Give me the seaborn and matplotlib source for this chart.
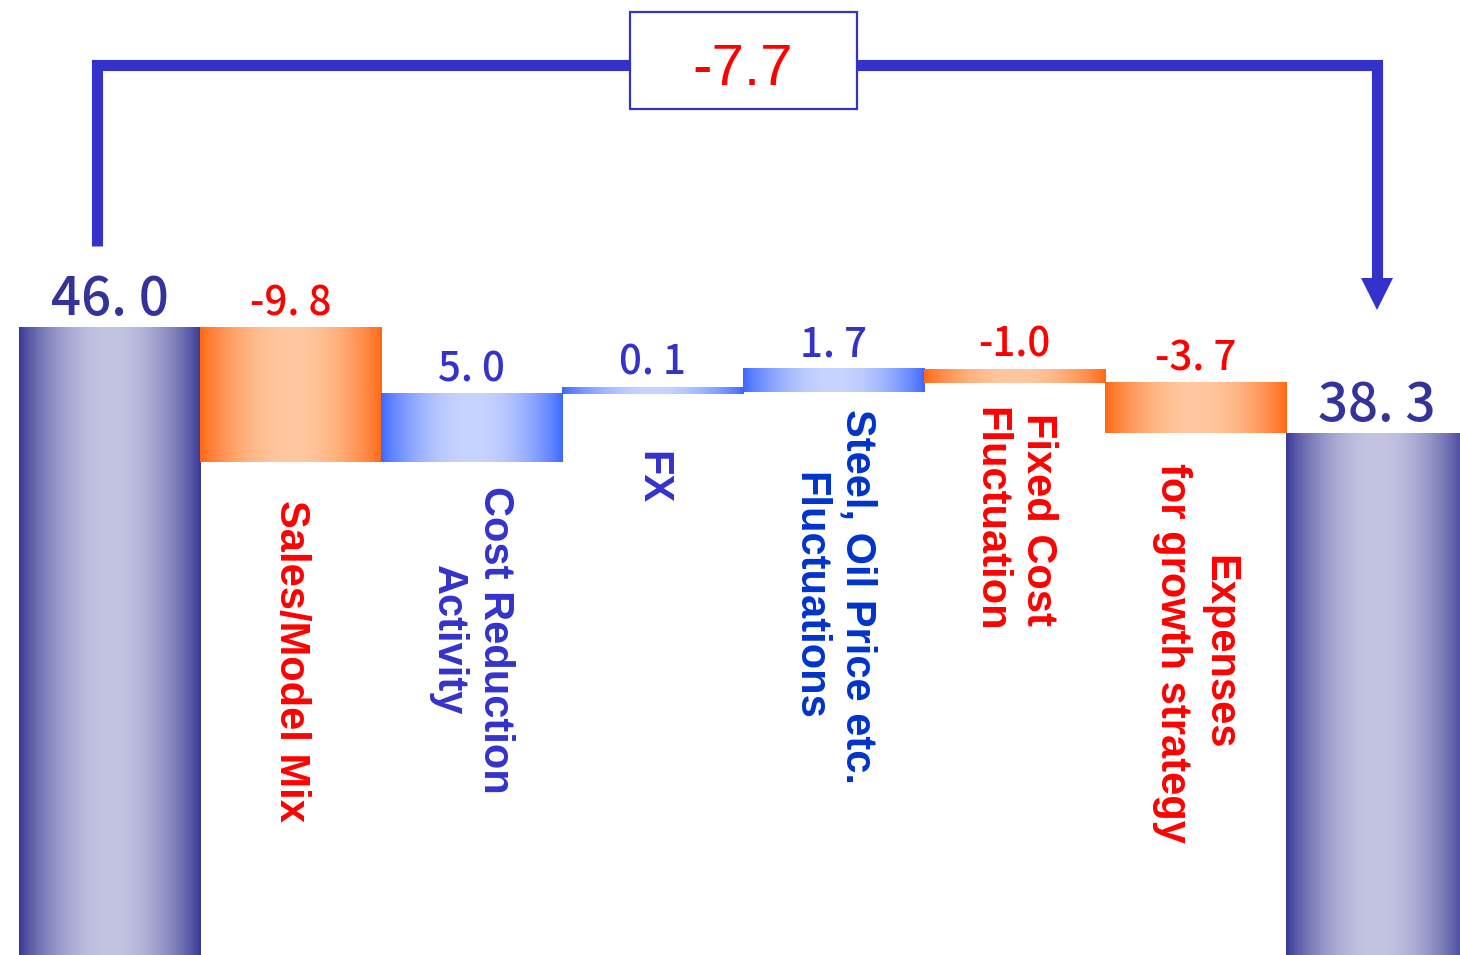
import numpy as np
import pandas as pd
import seaborn as sns
import matplotlib
matplotlib.use("Agg")
import matplotlib.pyplot as plt
from matplotlib.patches import Rectangle
from matplotlib.colors import to_rgb

# data
steps = ["Start", "Sales/Model Mix", "Cost Reduction\nActivity", "FX",
         "Steel, Oil Price etc.\nFluctuations", "Fixed Cost\nFluctuation",
         "Expenses\nfor growth strategy", "End"]
start_value = 46.0
changes = [-9.8, 5.0, 0.1, 1.7, -1.0, -3.7]
end_value = 38.3
value_labels = ["46. 0", "-9. 8", "5. 0", "0. 1", "1. 7", "-1.0", "-3. 7", "38. 3"]
total_label = "-7.7"

# layout / style
label_y = [21.7, 23.2, 35.1, 26.4, 32.0, 22.3]
label_colors = ["#ff0000", "#3333cc", "#3333cc", "#0033cc", "#ff0000", "#ff0000"]
min_visible = 0.5
line_col = "#3333cc"

sns.set_style("white")
plt.rcParams["font.family"] = ["Liberation Sans", "DejaVu Sans"]

# waterfall geometry
level = start_value
bottoms = [0.0]
heights = [start_value]
kinds = ["total"]
for c in changes:
    bottoms.append(min(level, level + c))
    heights.append(max(abs(c), min_visible))
    kinds.append("up" if c > 0 else "down")
    level += c
bottoms.append(0.0)
heights.append(end_value)
kinds.append("total")
df = pd.DataFrame({"step": steps, "height": heights, "bottom": bottoms, "kind": kinds})

fig = plt.figure(figsize=(14.6, 9.55), dpi=100)
ax = fig.add_axes([0, 0, 1, 1])
sns.barplot(data=df, x="step", y="height", bottom=df["bottom"].to_numpy(),
            width=1.0, color="white", saturation=1, linewidth=0, errorbar=None, ax=ax)

grad = {"total": ("#363694", "#c4c4e2"),
        "down": ("#ff6611", "#ffc8a0"),
        "up": ("#3a66ff", "#c8d4ff")}
t = np.linspace(0, 1, 256)
w = np.sin(np.pi * t) ** 0.8
for p, k in zip(ax.patches, df["kind"]):
    edge, mid = (np.array(to_rgb(c)) for c in grad[k])
    rgb = edge + (mid - edge) * w[:, None]
    x0, y0 = p.get_x(), p.get_y()
    ax.imshow(rgb[None, :, :], extent=(x0, x0 + p.get_width(), y0, y0 + p.get_height()),
              aspect="auto", interpolation="bilinear", zorder=2)
    p.set_facecolor("none")

# value labels
tops = df["bottom"] + df["height"]
for i, (lbl, k) in enumerate(zip(value_labels, kinds)):
    if k == "total":
        col, fs = "#333399", 38
    elif k == "down":
        col, fs = "#ff0000", 29
    else:
        col, fs = "#3333cc", 29
    ax.annotate(lbl, xy=(i, tops[i]), xytext=(0, 9), textcoords="offset points",
                ha="center", va="baseline", fontsize=fs, color=col, fontweight="medium",
                family=["Noto Sans CJK JP", "DejaVu Sans"], zorder=5)

# rotated category labels
for i, (name, y, col) in enumerate(zip(steps[1:-1], label_y, label_colors), start=1):
    ax.text(i, y, name, rotation=270, ha="center", va="center", ma="center",
            fontsize=30, fontweight="bold", color=col, linespacing=1.25)

# bracket with total change
top_y = 65.2
left_y = start_value + 6.0
tip_y = end_value + 9.0
head = 2.34
x_left = -0.07
x_right = len(steps) - 1
ax.plot([x_left, x_left, x_right, x_right], [left_y, top_y, top_y, tip_y + head],
        color=line_col, lw=8, solid_joinstyle="miter", solid_capstyle="butt", zorder=3)
ax.plot([x_right], [tip_y + head / 2], marker="v", markersize=23,
        color=line_col, markeredgewidth=0, zorder=3)
mid_x = (len(steps) - 1) / 2
ax.add_patch(Rectangle((mid_x - 0.627, 62.0), 1.254, 7.08, facecolor="white",
                       edgecolor=line_col, lw=1.6, zorder=4))
ax.text(mid_x, 64.8, total_label, ha="center", va="center", fontsize=42,
        color="#ff0000", zorder=5)

ax.set_xlim(-0.605, 7.461)
ax.set_ylim(0.22, 69.93)
ax.axis("off")
fig.savefig("out.png", dpi=100)
